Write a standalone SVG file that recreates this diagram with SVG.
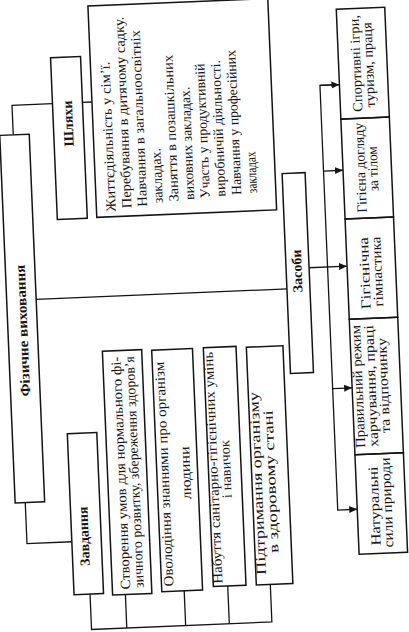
<svg xmlns="http://www.w3.org/2000/svg" width="409" height="632" viewBox="0 0 409 632">
<style>
.box{fill:none;stroke:#141414;stroke-width:1.5}
.ln{fill:none;stroke:#141414;stroke-width:1.3}
.t{font-family:"Liberation Serif","Times New Roman",serif;font-size:14px;fill:#141414}
.b{font-weight:bold;font-size:14px}
.m{text-anchor:middle}
</style>
<defs>
<marker id="ah" markerUnits="userSpaceOnUse" markerWidth="9" markerHeight="8" refX="8" refY="3.5" orient="auto"><path d="M0,0 L8,3.5 L0,7 z" fill="#141414"/></marker>
</defs>
<rect width="409" height="632" fill="#fff"/>
<g transform="rotate(-2.4 204 316)">
<g id="connectors">
<path class="ln" d="M21,127 V97.5 H61.5"/>
<path class="ln" d="M91.5,97.5 H101"/>
<path class="ln" d="M37,292.4 H288"/>
<path class="ln" d="M17.6,495 V536 H62.5"/>
<path class="ln" d="M78.5,589 V624.5 H259 V587"/>
<path class="ln" d="M113.8,591 V624.5"/>
<path class="ln" d="M172.7,589.7 V624.5"/>
<path class="ln" d="M216.4,586.7 V624.5"/>
<path class="ln" d="M311,272.2 H349" marker-end="url(#ah)"/>
<path class="ln" d="M349,90.5 H329.5 V515.5 H349" marker-end="url(#ah)"/>
<path class="ln" d="M329.5,90.5 H349" marker-end="url(#ah)"/>
<path class="ln" d="M329.5,176.2 H349" marker-end="url(#ah)"/>
<path class="ln" d="M329.5,394 H349" marker-end="url(#ah)"/>
</g>
<g id="fizychne">
<rect class="box" x="7.5" y="127" width="29.5" height="368"/>
<text class="t b m" x="27" y="323" transform="rotate(-90 27 323)" textLength="132" lengthAdjust="spacingAndGlyphs">Фізичне виховання</text>
</g>
<g id="shliakhy">
<rect class="box" x="61.5" y="51.5" width="30" height="162"/>
<text class="t b m" x="81" y="118" transform="rotate(-90 81 118)">Шляхи</text>
</g>
<g id="shliakhy-list">
<rect class="box" x="101" y="1.5" width="180" height="211.5"/>
<text class="t" x="120.2" y="207.8" transform="rotate(-90 120.2 207.8)" textLength="150" lengthAdjust="spacingAndGlyphs">Життєдіяльність у сім’ї.</text>
<text class="t" x="136" y="205" transform="rotate(-90 136 205)" textLength="191.4" lengthAdjust="spacingAndGlyphs">Перебування в дитячому садку.</text>
<text class="t" x="151.7" y="204.1" transform="rotate(-90 151.7 204.1)" textLength="176.5" lengthAdjust="spacingAndGlyphs">Навчання в загальноосвітніх</text>
<text class="t" x="167.5" y="201.4" transform="rotate(-90 167.5 201.4)" textLength="55" lengthAdjust="spacingAndGlyphs">закладах.</text>
<text class="t" x="183.3" y="200.4" transform="rotate(-90 183.3 200.4)" textLength="146.6" lengthAdjust="spacingAndGlyphs">Заняття в позашкільних</text>
<text class="t" x="199.1" y="199.4" transform="rotate(-90 199.1 199.4)" textLength="113.2" lengthAdjust="spacingAndGlyphs">виховних закладах.</text>
<text class="t" x="214.8" y="198.3" transform="rotate(-90 214.8 198.3)" textLength="134.8" lengthAdjust="spacingAndGlyphs">Участь у продуктивній</text>
<text class="t" x="230.6" y="197.4" transform="rotate(-90 230.6 197.4)" textLength="136.6" lengthAdjust="spacingAndGlyphs">виробничій діяльності.</text>
<text class="t" x="246.4" y="196.4" transform="rotate(-90 246.4 196.4)" textLength="144.9" lengthAdjust="spacingAndGlyphs">Навчання у професійних</text>
<text class="t" x="262.1" y="195.3" transform="rotate(-90 262.1 195.3)" textLength="41.6" lengthAdjust="spacingAndGlyphs">закладах</text>
</g>
<g id="zasoby">
<rect class="box" x="288" y="177" width="23" height="200"/>
<text class="t b m" x="303.5" y="275" transform="rotate(-90 303.5 275)">Засоби</text>
</g>
<g id="sportyvni">
<rect class="box" x="349" y="15" width="48.5" height="110"/>
<text class="t m" x="371" y="70" transform="rotate(-90 371 70)" textLength="97" lengthAdjust="spacingAndGlyphs">Спортивні ігри,</text>
<text class="t m" x="383.5" y="72" transform="rotate(-90 383.5 72)" textLength="85" lengthAdjust="spacingAndGlyphs">туризм, праця</text>
</g>
<g id="hihiiena">
<rect class="box" x="349" y="125" width="48.5" height="100"/>
<text class="t m" x="371" y="174.5" transform="rotate(-90 371 174.5)" textLength="90" lengthAdjust="spacingAndGlyphs">Гігієна догляду</text>
<text class="t m" x="383.5" y="176" transform="rotate(-90 383.5 176)" textLength="45" lengthAdjust="spacingAndGlyphs">за тілом</text>
</g>
<g id="hihiienichna">
<rect class="box" x="349" y="225" width="48.5" height="100.4"/>
<text class="t m" x="371" y="280" transform="rotate(-90 371 280)" textLength="72" lengthAdjust="spacingAndGlyphs">Гігієнічна</text>
<text class="t m" x="383.5" y="279" transform="rotate(-90 383.5 279)" textLength="70" lengthAdjust="spacingAndGlyphs">гімнастика</text>
</g>
<g id="pravylnyi">
<rect class="box" x="349" y="325.4" width="48.5" height="135.6"/>
<text class="t m" x="359.5" y="393" transform="rotate(-90 359.5 393)" textLength="123" lengthAdjust="spacingAndGlyphs">Правильний режим</text>
<text class="t m" x="372.6" y="393" transform="rotate(-90 372.6 393)" textLength="122" lengthAdjust="spacingAndGlyphs">харчування, праці</text>
<text class="t m" x="385" y="393" transform="rotate(-90 385 393)" textLength="95" lengthAdjust="spacingAndGlyphs">та відпочинку</text>
</g>
<g id="naturalni">
<rect class="box" x="349" y="461" width="48.5" height="99.5"/>
<text class="t m" x="371" y="513" transform="rotate(-90 371 513)" textLength="79" lengthAdjust="spacingAndGlyphs">Натуральні</text>
<text class="t m" x="383.5" y="510" transform="rotate(-90 383.5 510)" textLength="90" lengthAdjust="spacingAndGlyphs">сили природи</text>
</g>
<g id="zavdannia">
<rect class="box" x="62.5" y="428" width="29.5" height="161"/>
<text class="t b m" x="79.5" y="531" transform="rotate(-90 79.5 531)">Завдання</text>
</g>
<g id="stvorennia">
<rect class="box" x="101" y="347" width="39.3" height="244"/>
<text class="t" x="118.8" y="586" transform="rotate(-90 118.8 586)" textLength="233" lengthAdjust="spacingAndGlyphs">Створення умов для нормального фі-</text>
<text class="t" x="132.3" y="585" transform="rotate(-90 132.3 585)" textLength="232" lengthAdjust="spacingAndGlyphs">зичного розвитку, збереження здоров’я</text>
</g>
<g id="ovolodinnia">
<rect class="box" x="150.3" y="348" width="40.8" height="241.7"/>
<text class="t" x="162.1" y="584.8" transform="rotate(-90 162.1 584.8)" textLength="225" lengthAdjust="spacingAndGlyphs">Оволодіння знаннями про організм</text>
<text class="t m" x="183.6" y="472" transform="rotate(-90 183.6 472)" textLength="53" lengthAdjust="spacingAndGlyphs">людини</text>
</g>
<g id="nabuttia">
<rect class="box" x="202" y="347.7" width="32.7" height="239"/>
<text class="t" x="211.2" y="584" transform="rotate(-90 211.2 584)" textLength="232" lengthAdjust="spacingAndGlyphs">Набуття санітарно-гігієнічних умінь</text>
<text class="t m" x="224" y="470" transform="rotate(-90 224 470)" textLength="58" lengthAdjust="spacingAndGlyphs">і навичок</text>
</g>
<g id="pidtrymannia">
<rect class="box" x="245" y="349" width="36.6" height="238"/>
<text class="t m" x="255" y="485.6" transform="rotate(-90 255 485.6)" textLength="183" lengthAdjust="spacingAndGlyphs">Підтримання  організму</text>
<text class="t m" x="268.5" y="484.2" transform="rotate(-90 268.5 484.2)" textLength="143" lengthAdjust="spacingAndGlyphs">в здоровому стані</text>
</g>
</g>
</svg>
